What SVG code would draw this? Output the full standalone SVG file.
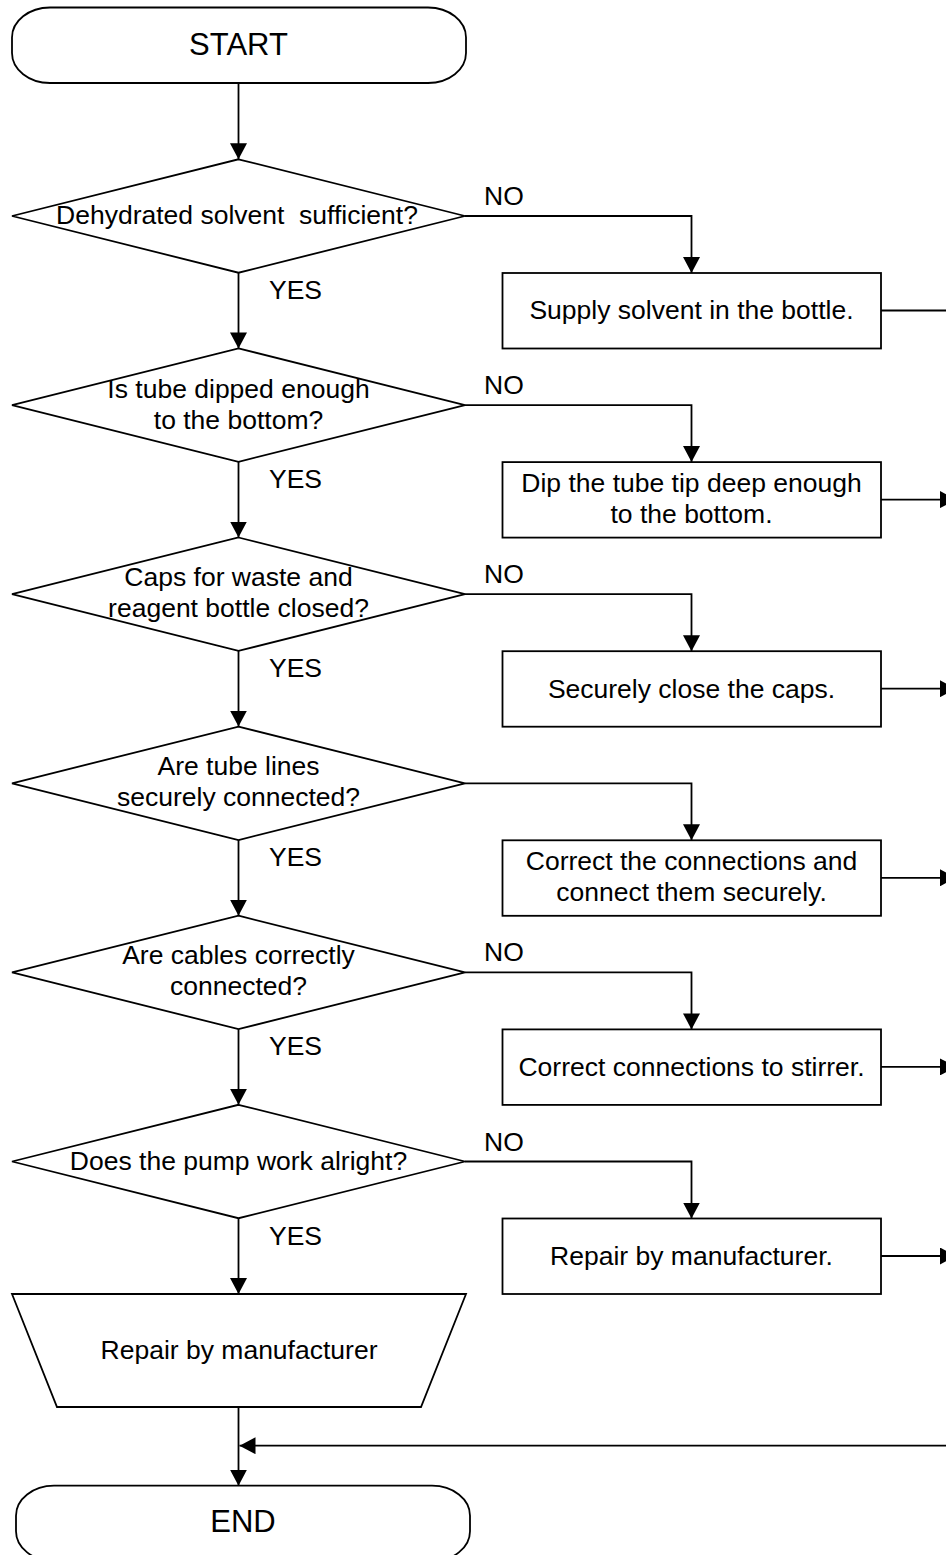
<svg xmlns="http://www.w3.org/2000/svg" width="946" height="1555" viewBox="0 0 946 1555">
  <style>
    .shape { fill: #ffffff; stroke: #000000; stroke-width: 1.8; }
    .line { fill: none; stroke: #000000; stroke-width: 1.8; }
    .txt { font-family: "Liberation Sans", Arial, sans-serif; font-size: 26.5px; fill: #000000; white-space: pre; }
    .mid { text-anchor: middle; }
    .title { font-size: 31px; }
  </style>
  <defs>
    <marker id="arrow" markerUnits="userSpaceOnUse" markerWidth="17" markerHeight="17" refX="16" refY="8.5" orient="auto">
      <path d="M0,0 L16,8.5 L0,17 z" fill="#000000"/>
    </marker>
  </defs>
  <rect width="946" height="1555" fill="#ffffff"/>

  <!-- connectors -->
  <g id="connectors">
    <!-- main vertical flow -->
    <line class="line" x1="238.5" y1="83" x2="238.5" y2="159.3" marker-end="url(#arrow)"/>
    <line class="line" x1="238.5" y1="272.7" x2="238.5" y2="348.4" marker-end="url(#arrow)"/>
    <line class="line" x1="238.5" y1="461.8" x2="238.5" y2="537.5" marker-end="url(#arrow)"/>
    <line class="line" x1="238.5" y1="650.9" x2="238.5" y2="726.6" marker-end="url(#arrow)"/>
    <line class="line" x1="238.5" y1="840" x2="238.5" y2="915.7" marker-end="url(#arrow)"/>
    <line class="line" x1="238.5" y1="1029.1" x2="238.5" y2="1104.8" marker-end="url(#arrow)"/>
    <line class="line" x1="238.5" y1="1218.2" x2="238.5" y2="1294" marker-end="url(#arrow)"/>
    <line class="line" x1="238.5" y1="1407" x2="238.5" y2="1485.7" marker-end="url(#arrow)"/>
    <!-- NO branches -->
    <polyline class="line" points="465,216 691.5,216 691.5,273" marker-end="url(#arrow)"/>
    <polyline class="line" points="465,405.1 691.5,405.1 691.5,462.1" marker-end="url(#arrow)"/>
    <polyline class="line" points="465,594.2 691.5,594.2 691.5,651.2" marker-end="url(#arrow)"/>
    <polyline class="line" points="465,783.3 691.5,783.3 691.5,840.3" marker-end="url(#arrow)"/>
    <polyline class="line" points="465,972.4 691.5,972.4 691.5,1029.4" marker-end="url(#arrow)"/>
    <polyline class="line" points="465,1161.5 691.5,1161.5 691.5,1218.5" marker-end="url(#arrow)"/>
    <!-- outgoing lines to the right edge -->
    <line class="line" x1="881" y1="310.5" x2="946" y2="310.5"/>
    <line class="line" x1="881" y1="499.6" x2="956" y2="499.6" marker-end="url(#arrow)"/>
    <line class="line" x1="881" y1="688.7" x2="956" y2="688.7" marker-end="url(#arrow)"/>
    <line class="line" x1="881" y1="877.8" x2="956" y2="877.8" marker-end="url(#arrow)"/>
    <line class="line" x1="881" y1="1066.9" x2="956" y2="1066.9" marker-end="url(#arrow)"/>
    <line class="line" x1="881" y1="1256" x2="956" y2="1256" marker-end="url(#arrow)"/>
    <!-- return line into the main flow -->
    <line class="line" x1="946" y1="1445.7" x2="239.5" y2="1445.7" marker-end="url(#arrow)"/>
    <!-- branch labels -->
    <text class="txt" x="269" y="299">YES</text>
    <text class="txt" x="269" y="488.1">YES</text>
    <text class="txt" x="269" y="677.2">YES</text>
    <text class="txt" x="269" y="866.3">YES</text>
    <text class="txt" x="269" y="1055.4">YES</text>
    <text class="txt" x="269" y="1244.5">YES</text>
    <text class="txt" x="484" y="205">NO</text>
    <text class="txt" x="484" y="394.1">NO</text>
    <text class="txt" x="484" y="583.2">NO</text>
    <text class="txt" x="484" y="961.4">NO</text>
    <text class="txt" x="484" y="1150.5">NO</text>
  </g>

  <g id="start">
    <rect class="shape" x="12" y="7.5" width="454" height="75.5" rx="38" ry="30"/>
    <text class="txt title mid" x="238.5" y="55">START</text>
  </g>

  <g id="q1">
    <polygon class="shape" points="238.5,159.3 465,216 238.5,272.7 12,216"/>
    <text class="txt mid" x="237" y="224" xml:space="preserve">Dehydrated solvent  sufficient?</text>
  </g>
  <g id="a1">
    <rect class="shape" x="502.5" y="273" width="378.5" height="75.5"/>
    <text class="txt mid" x="691.5" y="319.3">Supply solvent in the bottle.</text>
  </g>

  <g id="q2">
    <polygon class="shape" points="238.5,348.4 465,405.1 238.5,461.8 12,405.1"/>
    <text class="txt mid" x="238.5" y="397.6">Is tube dipped enough</text>
    <text class="txt mid" x="238.5" y="428.6">to the bottom?</text>
  </g>
  <g id="a2">
    <rect class="shape" x="502.5" y="462.1" width="378.5" height="75.5"/>
    <text class="txt mid" x="691.5" y="491.6">Dip the tube tip deep enough</text>
    <text class="txt mid" x="691.5" y="522.6">to the bottom.</text>
  </g>

  <g id="q3">
    <polygon class="shape" points="238.5,537.5 465,594.2 238.5,650.9 12,594.2"/>
    <text class="txt mid" x="238.5" y="585.7">Caps for waste and</text>
    <text class="txt mid" x="238.5" y="617.2">reagent bottle closed?</text>
  </g>
  <g id="a3">
    <rect class="shape" x="502.5" y="651.2" width="378.5" height="75.5"/>
    <text class="txt mid" x="691.5" y="697.7">Securely close the caps.</text>
  </g>

  <g id="q4">
    <polygon class="shape" points="238.5,726.6 465,783.3 238.5,840 12,783.3"/>
    <text class="txt mid" x="238.5" y="774.8">Are tube lines</text>
    <text class="txt mid" x="238.5" y="806.3">securely connected?</text>
  </g>
  <g id="a4">
    <rect class="shape" x="502.5" y="840.3" width="378.5" height="75.5"/>
    <text class="txt mid" x="691.5" y="869.8">Correct the connections and</text>
    <text class="txt mid" x="691.5" y="900.8">connect them securely.</text>
  </g>

  <g id="q5">
    <polygon class="shape" points="238.5,915.7 465,972.4 238.5,1029.1 12,972.4"/>
    <text class="txt mid" x="238.5" y="963.9">Are cables correctly</text>
    <text class="txt mid" x="238.5" y="995.4">connected?</text>
  </g>
  <g id="a5">
    <rect class="shape" x="502.5" y="1029.4" width="378.5" height="75.5"/>
    <text class="txt mid" x="691.5" y="1075.9">Correct connections to stirrer.</text>
  </g>

  <g id="q6">
    <polygon class="shape" points="238.5,1104.8 465,1161.5 238.5,1218.2 12,1161.5"/>
    <text class="txt mid" x="238.5" y="1169.5">Does the pump work alright?</text>
  </g>
  <g id="a6">
    <rect class="shape" x="502.5" y="1218.5" width="378.5" height="75.5"/>
    <text class="txt mid" x="691.5" y="1265">Repair by manufacturer.</text>
  </g>

  <g id="manual">
    <polygon class="shape" points="12,1294 466,1294 421,1407 57,1407"/>
    <text class="txt mid" x="239" y="1359">Repair by manufacturer</text>
  </g>

  <g id="end">
    <rect class="shape" x="16" y="1485.7" width="454" height="75.5" rx="38" ry="30"/>
    <text class="txt title mid" x="243" y="1531.7">END</text>
  </g>
</svg>
